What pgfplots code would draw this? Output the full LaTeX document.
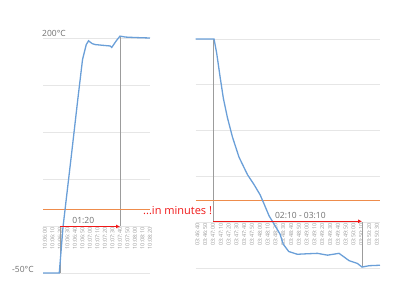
\documentclass[border=0pt]{standalone}
\usepackage{pgfplots}
\pgfplotsset{compat=1.18}
\usepackage{fontspec}
\setmainfont{Open Sans}
\usetikzlibrary{arrows.meta}
\definecolor{xlblue}{HTML}{6A9FD8}
\definecolor{xlorange}{HTML}{EE8C4C}
\definecolor{gridc}{HTML}{E6E6E6}
\definecolor{txtgray}{HTML}{6F6F6F}
\definecolor{tickgray}{HTML}{999999}
\definecolor{markgray}{HTML}{9C9C9C}
\definecolor{annred}{HTML}{F01818}

\pgfplotsset{panel/.style={
  scale only axis,
  axis x line=middle,
  axis y line=left,
  x axis line style={draw=none},
  y axis line style={draw=none},
  hide obscured x ticks=false,
  ymin=-50, ymax=200,
  ytick={-50,0,...,200},
  yticklabels={},
  ymajorgrids,
  major grid style={gridc, line width=0.8pt},
  major tick length=0pt,
  xticklabel style={rotate=90, anchor=east, font=\fontsize{5.5}{6}\selectfont, text=tickgray, inner sep=1.2pt},
  /pgf/number format/assume math mode=true,
  clip=false,
  anchor=south west,
}}

\begin{document}
\begin{tikzpicture}[x=1pt,y=1pt]
\useasboundingbox (0,0) rectangle (400,306);

% Left panel: heating
\begin{axis}[panel,
  at={(43pt,33pt)}, width=107pt, height=235pt,
  xmin=-2.7, xmax=140,
  xtick={0,10,...,140},
  xticklabels={10:06:00,10:06:10,10:06:20,10:06:30,10:06:40,10:06:50,10:07:00,10:07:10,10:07:20,10:07:30,10:07:40,10:07:50,10:08:00,10:08:10,10:08:20},
]
\draw[markgray, line width=1pt] (axis cs:20,-50) -- (axis cs:20,0);
\draw[markgray, line width=1pt] (axis cs:100,0) -- (axis cs:100,202);
\addplot[xlorange, line width=1pt] coordinates {(-2.7,18) (140,18)};
\addplot[xlblue, line width=1.3pt] coordinates {
(-2.7,-50) (19,-50) (24,-1) (36,81) (43.6,134) (50,177) (55,193) (58,197)
(63,194) (67,193) (80,192) (87,191.5) (89,190) (95,197) (100,202) (107,201)
(120,200.5) (140,200)};
\draw[annred, line width=1.3pt, -{Latex[length=4pt,width=4pt]}] (axis cs:20,-0.5) -- (axis cs:100,-0.5);
\node[anchor=south, text=txtgray, font=\fontsize{8.5}{9}\selectfont, inner sep=1pt] at (axis cs:51,1.5) {01:20};
\end{axis}

% Right panel: cooling
\begin{axis}[panel,
  at={(195.7pt,38pt)}, width=184.3pt, height=229pt,
  xmin=-2.2, xmax=234,
  xtick={0,10,...,230},
  xticklabels={03:46:40,03:46:50,03:47:00,03:47:10,03:47:20,03:47:30,03:47:40,03:47:50,03:48:00,03:48:10,03:48:20,03:48:30,03:48:40,03:48:50,03:49:00,03:49:10,03:49:20,03:49:30,03:49:40,03:49:50,03:50:00,03:50:10,03:50:20,03:50:30},
]
\draw[markgray, line width=1pt] (axis cs:20.5,0) -- (axis cs:20.5,200);
\draw[markgray, line width=1pt] (axis cs:211,0) -- (axis cs:211,-49);
\addplot[xlorange, line width=1pt] coordinates {(-2.2,24) (234,24)};
\addplot[xlblue, line width=1.3pt] coordinates {
(-2.2,200) (21.3,200) (24.7,184.5) (29,159) (33.3,135) (38.5,114) (44.9,93)
(53.3,71) (64.1,52) (72.6,41) (80.3,30) (85.4,20) (91.8,7) (98.2,-2)
(105.9,-13) (110,-24) (117,-32) (128,-35) (140,-34.5) (153.8,-34) (166.7,-36)
(181.5,-34) (188,-38) (194.4,-42) (205,-45) (211,-49) (220,-47.5) (234,-47)};
\draw[annred, line width=1.3pt, -{Latex[length=4pt,width=4pt]}] (axis cs:20.5,1) -- (axis cs:211,1);
\node[anchor=south, text=txtgray, font=\fontsize{8.5}{9}\selectfont, inner sep=1pt] at (axis cs:132,3) {02:10 - 03:10};
\end{axis}

% Free annotations
\node[anchor=west, text=txtgray, font=\fontsize{8.5}{9}\selectfont, inner sep=0pt] at (42,273) {200°C};
\node[anchor=west, text=txtgray, font=\fontsize{8.5}{9}\selectfont, inner sep=0pt] at (12,37) {-50°C};
\node[anchor=west, text=annred, font=\fontsize{11}{12}\selectfont, inner sep=0pt] at (143,95) {...in minutes\hspace{3pt}!};
\end{tikzpicture}
\end{document}
